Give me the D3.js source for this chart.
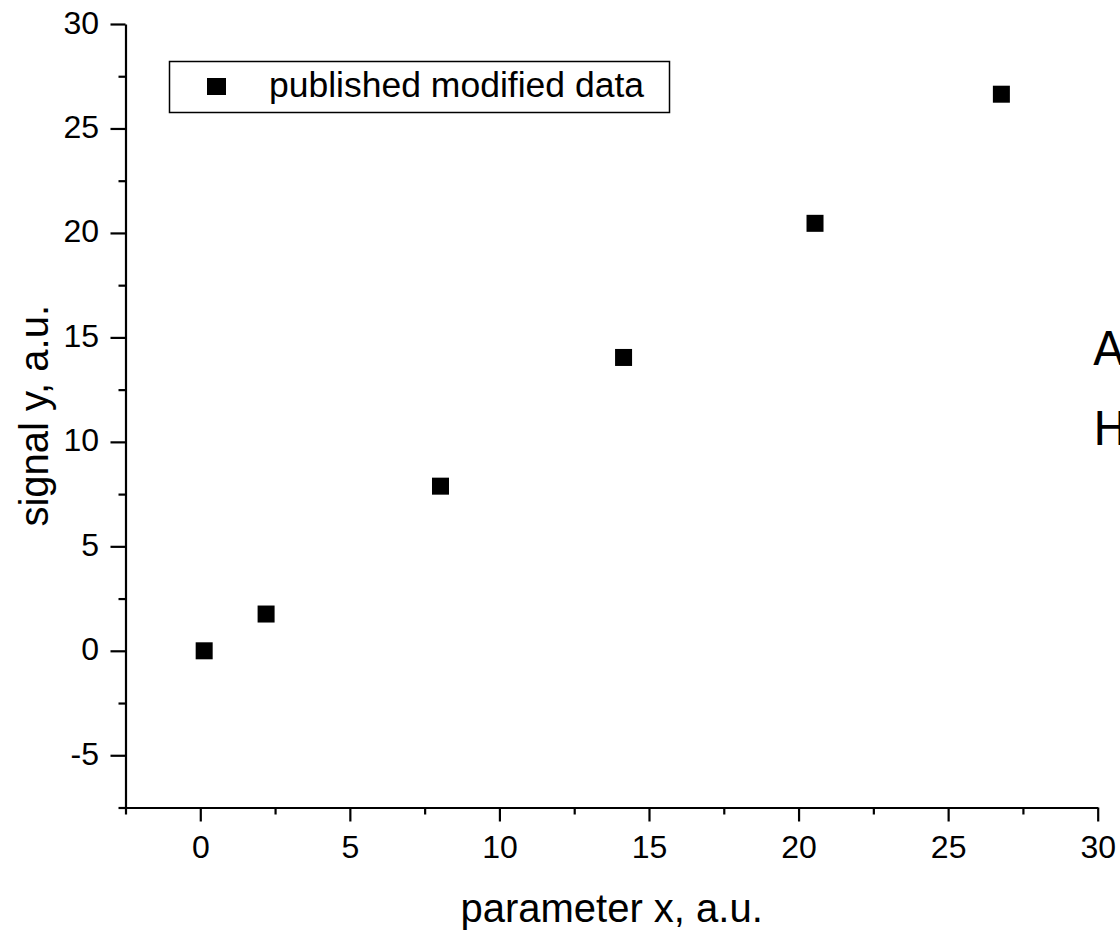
<!DOCTYPE html>
<html>
<head>
<meta charset="utf-8">
<script src="https://cdn.jsdelivr.net/npm/d3@7"></script>
<style>
  html, body { margin: 0; padding: 0; background: #fff; }
  svg { display: block; }
  text { font-family: "Liberation Sans", Arial, sans-serif; fill: #000; }
</style>
</head>
<body>
<div id="chart"></div>
<script>
// ---- data ----
const xValues = [0.13, 2.2, 8.03, 14.15, 20.55, 26.78];
const yValues = [0.0, 1.76, 7.88, 14.04, 20.46, 26.64];
const seriesName = "published modified data";
const xTicks = [0, 5, 10, 15, 20, 25, 30];
const yTicks = [-5, 0, 5, 10, 15, 20, 25, 30];
const xMinorTicks = [-2.5, 2.5, 7.5, 12.5, 17.5, 22.5, 27.5];
const yMinorTicks = [-7.5, -2.5, 2.5, 7.5, 12.5, 17.5, 22.5, 27.5];
const xTitle = "parameter x, a.u.";
const yTitle = "signal y, a.u.";
const sideNotes = ["A", "H"];

// ---- layout ----
const W = 1120, H = 930;
const mLeft = 125.5, mRight = 1097.7, mTop = 24, mBottom = 807.5;

const svg = d3.select("#chart").append("svg").attr("width", W).attr("height", H);

const x = d3.scaleLinear().domain([-2.5, 30]).range([mLeft, mRight]);
const y = d3.scaleLinear().domain([-7.5, 30]).range([mBottom, mTop]);
const fmt = d => String(d);

// x axis
const xAxisG = svg.append("g").attr("transform", `translate(0,${mBottom})`);
xAxisG.call(d3.axisBottom(x).tickValues(xTicks).tickSize(14).tickSizeOuter(0).tickFormat(fmt));
xAxisG.append("g").call(d3.axisBottom(x).tickValues(xMinorTicks).tickSize(7).tickSizeOuter(0).tickFormat(""))
  .select(".domain").remove();
xAxisG.selectAll(".domain").attr("stroke", "#000").attr("stroke-width", 2.2);
xAxisG.selectAll(".tick line").attr("stroke", "#000").attr("stroke-width", 2.2);
xAxisG.selectAll(".tick text").attr("font-size", 32).attr("y", 50.5).attr("dy", 0)
  .style("font-family", "Liberation Sans, Arial, sans-serif");

// y axis
const yAxisG = svg.append("g").attr("transform", `translate(${mLeft},0)`);
yAxisG.call(d3.axisLeft(y).tickValues(yTicks).tickSize(15).tickSizeOuter(0).tickFormat(fmt));
yAxisG.append("g").call(d3.axisLeft(y).tickValues(yMinorTicks).tickSize(7).tickSizeOuter(0).tickFormat(""))
  .select(".domain").remove();
yAxisG.selectAll(".domain").attr("stroke", "#000").attr("stroke-width", 2.2);
yAxisG.selectAll(".tick line").attr("stroke", "#000").attr("stroke-width", 2.2);
yAxisG.selectAll(".tick text").attr("font-size", 32).attr("x", -26.5).attr("dy", 9)
  .style("font-family", "Liberation Sans, Arial, sans-serif");

// axis titles
svg.append("text").attr("x", (mLeft + mRight) / 2).attr("y", 922)
  .attr("text-anchor", "middle").attr("font-size", 40).text(xTitle);
svg.append("text").attr("transform", `translate(48,${(mTop + mBottom) / 2}) rotate(-90)`)
  .attr("text-anchor", "middle").attr("font-size", 40).text(yTitle);

// points
const ms = 17;
svg.append("g").selectAll("rect").data(xValues.map((d, i) => [d, yValues[i]])).join("rect")
  .attr("x", d => x(d[0]) - ms / 2).attr("y", d => y(d[1]) - ms / 2)
  .attr("width", ms).attr("height", ms).attr("fill", "#000");

// legend
const lg = svg.append("g");
lg.append("rect").attr("x", 169.5).attr("y", 61.5).attr("width", 500).attr("height", 51)
  .attr("fill", "#fff").attr("stroke", "#000").attr("stroke-width", 1.5);
lg.append("rect").attr("x", 207).attr("y", 78).attr("width", 19).attr("height", 17).attr("fill", "#000");
lg.append("text").attr("x", 269).attr("y", 97).attr("font-size", 35.5).text(seriesName);

// side notes (cut off at the right edge, as in the reference)
svg.append("g").selectAll("text").data(sideNotes).join("text")
  .attr("x", 1093).attr("y", (d, i) => 365 + i * 80).attr("font-size", 46)
  .style("font-family", "DejaVu Sans, sans-serif").text(d => d);
</script>
</body>
</html>
